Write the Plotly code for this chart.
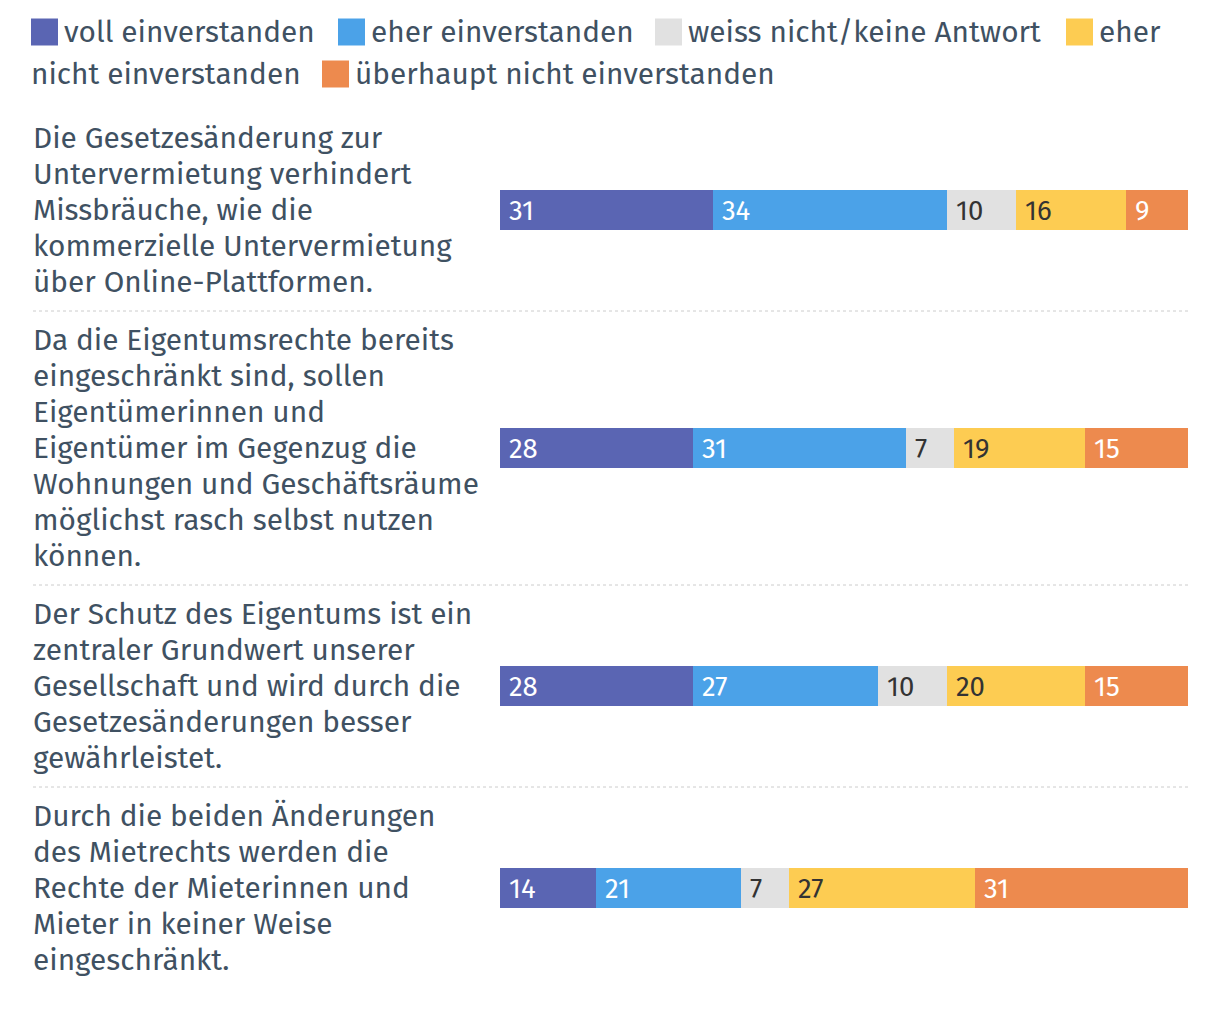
import plotly.graph_objects as go

W, H = 1220, 1030

# ---------------- data ----------------
categories = [
    "Die Gesetzesänderung zur<br>Untervermietung verhindert<br>Missbräuche, wie die<br>kommerzielle Untervermietung<br>über Online-Plattformen.",
    "Da die Eigentumsrechte bereits<br>eingeschränkt sind, sollen<br>Eigentümerinnen und<br>Eigentümer im Gegenzug die<br>Wohnungen und Geschäftsräume<br>möglichst rasch selbst nutzen<br>können.",
    "Der Schutz des Eigentums ist ein<br>zentraler Grundwert unserer<br>Gesellschaft und wird durch die<br>Gesetzesänderungen besser<br>gewährleistet.",
    "Durch die beiden Änderungen<br>des Mietrechts werden die<br>Rechte der Mieterinnen und<br>Mieter in keiner Weise<br>eingeschränkt.",
]
series_names = [
    "voll einverstanden",
    "eher einverstanden",
    "weiss nicht/keine Antwort",
    "eher nicht einverstanden",
    "überhaupt nicht einverstanden",
]
voll_einverstanden = [31, 28, 28, 14]
eher_einverstanden = [34, 31, 27, 21]
weiss_nicht = [10, 7, 10, 7]
eher_nicht_einverstanden = [16, 19, 20, 27]
ueberhaupt_nicht = [9, 15, 15, 31]

# ---------------- style ----------------
colors = ["#5a65b3", "#4ba2e8", "#e1e1e1", "#fdcc52", "#ed8a4e"]
label_colors = ["#ffffff", "#ffffff", "#333333", "#333333", "#ffffff"]
TEXT = "#3f5162"
FONT = "Fira Sans, Open Sans, Noto Sans, sans-serif"
FS = 29.8
VFS = 27.5
LINE = 36
GAP = 58
FIRST = 138

series = [voll_einverstanden, eher_einverstanden, weiss_nicht,
          eher_nicht_einverstanden, ueberhaupt_nicht]

# row layout from label line counts
centers, seps, line_pos = [], [], []
start = FIRST
for c in categories:
    lines = c.split("<br>")
    n = len(lines)
    centers.append(start + (n - 1) * LINE / 2)
    line_pos.append([(ln, start + k * LINE) for k, ln in enumerate(lines)])
    last = start + (n - 1) * LINE
    seps.append(last + GAP / 2)
    start = last + GAP
seps = seps[:-1]

fig = go.Figure()
for name, vals, col in zip(series_names, series, colors):
    fig.add_trace(go.Bar(
        orientation="h", x=vals, y=centers, width=40, name=name,
        marker=dict(color=col, line=dict(width=0)), showlegend=False,
        hoverinfo="x+name",
    ))

annotations = []
shapes = []

# value labels
for i, yc in enumerate(centers):
    cum = 0
    for s, vals in enumerate(series):
        v = vals[i]
        annotations.append(dict(
            x=cum, y=yc, xref="x", yref="y", text=str(v), showarrow=False,
            xanchor="left", yanchor="middle", xshift=7,
            font=dict(family=FONT, size=VFS, color=label_colors[s]),
        ))
        cum += v

# category labels (one annotation per line for exact line spacing)
for rows in line_pos:
    for ln, ly in rows:
        annotations.append(dict(
            x=31 / W, y=ly, xref="paper", yref="y", text=ln, showarrow=False,
            xanchor="left", yanchor="middle", align="left",
            font=dict(family=FONT, size=FS, color=TEXT),
        ))

# separators
for sy in seps:
    shapes.append(dict(type="line", xref="paper", yref="y",
                       x0=33 / W, x1=1188 / W, y0=sy, y1=sy,
                       line=dict(color="#cccccc", width=1, dash="dot")))

# legend (flowing text)
legend_items = [
    (31, 32, 62, 32, series_names[0]),
    (338, 32, 369, 32, series_names[1]),
    (655, 32, 686, 32, series_names[2]),
    (1066, 32, 1097, 32, "eher"),
    (None, None, 29, 74, "nicht einverstanden"),
    (322, 74, 353, 74, series_names[4]),
]
sq_cols = [colors[0], colors[1], colors[2], colors[3], None, colors[4]]
for (sx, sy, tx, ty, t), col in zip(legend_items, sq_cols):
    if sx is not None:
        shapes.append(dict(type="rect", xref="paper", yref="y",
                           x0=sx / W, x1=(sx + 27) / W, y0=sy - 13.5, y1=sy + 13.5,
                           fillcolor=col, line=dict(width=0)))
    annotations.append(dict(
        x=tx / W, y=ty, xref="paper", yref="y", text=t, showarrow=False,
        xanchor="left", yanchor="middle",
        font=dict(family=FONT, size=FS, color=TEXT),
    ))

fig.update_layout(
    width=W, height=H, margin=dict(l=0, r=0, t=0, b=0),
    paper_bgcolor="white", plot_bgcolor="white",
    barmode="stack", bargap=0,
    xaxis=dict(domain=[500 / W, 1188 / W], range=[0, 100], visible=False, fixedrange=True),
    yaxis=dict(range=[H, 0], visible=False, fixedrange=True),
    annotations=annotations, shapes=shapes,
    showlegend=False,
)

fig.write_html("out.html")
